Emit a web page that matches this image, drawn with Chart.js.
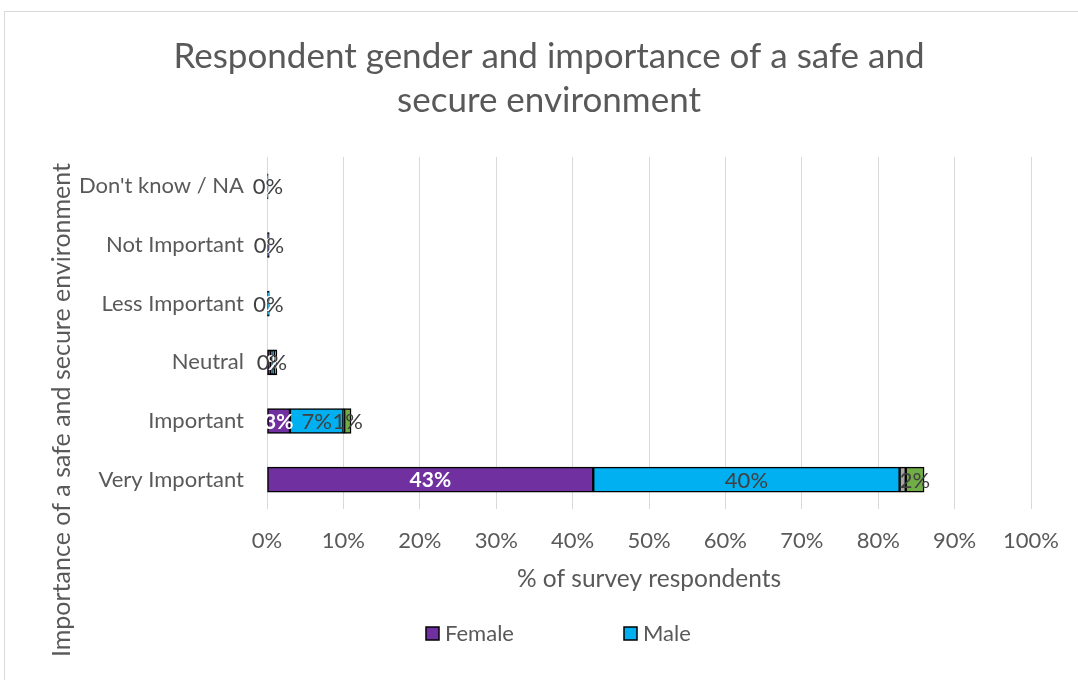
<!DOCTYPE html>
<html>
<head>
<meta charset="utf-8">
<script src="https://cdn.jsdelivr.net/npm/chart.js@4.4.1/dist/chart.umd.min.js"></script>
<style>
    body { margin: 0; background: #fff; }
    #frame { position: absolute; left: 4px; top: 11px; width: 1074px; height: 669px; border-top: 1px solid #d9d9d9; border-left: 1px solid #d9d9d9; }
    #wrap { position: absolute; left: 0; top: 0; width: 1078px; height: 680px; }
</style>
</head>
<body>
<div id="frame"></div>
<div id="wrap"><canvas id="canvasChart"></canvas></div>
<script>
var categories = ["Don't know / NA", "Not Important", "Less Important", "Neutral", "Important", "Very Important"];
var female = [0, 0.2, 0.1, 0.5, 3.0, 42.7];
var male = [0.15, 0.1, 0.2, 0.3, 7.0, 40.1];
var other = [0, 0, 0, 0.1, 0.1, 0.8];
var preferNot = [0, 0, 0, 0.4, 0.9, 2.4];
var xTicks = [0, 10, 20, 30, 40, 50, 60, 70, 80, 90, 100];

var textColor = '#595959';
var fontName = 'Lato, "Open Sans", sans-serif';

// data labels drawn in the middle of each segment
var segmentLabels = {
    id: 'segmentLabels',
    afterDatasetsDraw: function (chart) {
        var ctx = chart.ctx;
        ctx.save();
        ctx.textAlign = 'center';
        ctx.textBaseline = 'middle';
        chart.data.datasets.forEach(function (ds, i) {
            if (!ds.labelColor) return;
            var meta = chart.getDatasetMeta(i);
            meta.data.forEach(function (bar, j) {
                var v = ds.data[j];
                if (!ds.labelZero && Math.round(v) < 1) return;
                ctx.fillStyle = ds.labelColor;
                ctx.font = (ds.labelBold ? 'bold 21px ' : '22px ') + fontName;
                ctx.fillText(Math.round(v) + '%', (bar.x + bar.base) / 2, bar.y + 1);
            });
        });
        ctx.restore();
    }
};

// rotated y title and the two-item legend
var extras = {
    id: 'extras',
    afterDraw: function (chart) {
        var ctx = chart.ctx;
        ctx.save();
        ctx.fillStyle = textColor;
        ctx.font = '25px ' + fontName;
        ctx.textAlign = 'center';
        ctx.textBaseline = 'middle';
        ctx.translate(62, 410);
        ctx.rotate(-Math.PI / 2);
        ctx.fillText('Importance of a safe and secure environment', 0, 0);
        ctx.restore();

        ctx.save();
        ctx.font = '22px ' + fontName;
        ctx.textBaseline = 'middle';
        var x = 426;
        chart.data.datasets.forEach(function (ds) {
            if (!ds.inLegend) return;
            ctx.fillStyle = ds.backgroundColor;
            ctx.fillRect(x, 627, 13, 13);
            ctx.strokeStyle = '#000';
            ctx.lineWidth = 1.5;
            ctx.strokeRect(x, 627, 13, 13);
            ctx.fillStyle = textColor;
            ctx.textAlign = 'left';
            ctx.fillText(ds.label, x + 19, 634);
            x += 198;
        });
        ctx.restore();
    }
};

function makeSet(label, values, color, extra) {
    var ds = {
        label: label,
        data: values,
        backgroundColor: color,
        borderColor: '#000000',
        borderWidth: 1.5,
        borderSkipped: false,
        barThickness: 25
    };
    return Object.assign(ds, extra);
}

var config = {
    type: 'bar',
    data: {
        labels: categories,
        datasets: [
            makeSet('Female', female, '#7030A0', { inLegend: true, labelColor: '#ffffff', labelBold: true, labelZero: true }),
            makeSet('Male', male, '#00B0F0', { inLegend: true, labelColor: '#404040', labelZero: true }),
            makeSet('Other', other, '#A5A5A5', {}),
            makeSet('Prefer not to say', preferNot, '#70AD47', { labelColor: '#404040' })
        ]
    },
    options: {
        indexAxis: 'y',
        animation: false,
        responsive: true,
        maintainAspectRatio: false,
        layout: { padding: { left: 66, right: 46, top: 0, bottom: 86 } },
        scales: {
            x: {
                stacked: true,
                min: 0,
                max: 100,
                afterBuildTicks: function (scale) {
                    scale.ticks = xTicks.map(function (v) { return { value: v }; });
                },
                afterFit: function (scale) { scale.height = 85; },
                grid: { color: '#d9d9d9', lineWidth: 1, drawTicks: false },
                border: { display: false },
                ticks: {
                    padding: 19,
                    color: textColor,
                    font: { family: fontName, size: 22 },
                    callback: function (v) { return v + '%'; }
                },
                title: {
                    display: true,
                    text: '% of survey respondents',
                    color: textColor,
                    font: { family: fontName, size: 24.5 },
                    padding: { top: 0, bottom: 0 }
                }
            },
            y: {
                stacked: true,
                afterFit: function (scale) { scale.width = 201; },
                grid: { display: false, drawTicks: false },
                border: { display: false },
                ticks: {
                    padding: 23,
                    color: textColor,
                    font: { family: fontName, size: 22 }
                }
            }
        },
        plugins: {
            legend: { display: false },
            tooltip: { enabled: false },
            title: {
                display: true,
                text: ['Respondent gender and importance of a safe and', 'secure environment'],
                color: textColor,
                font: { family: fontName, size: 35, weight: 'normal', lineHeight: 1.257 },
                padding: { top: 35, bottom: 34 }
            }
        }
    },
    plugins: [segmentLabels, extras]
};

var ctx = document.getElementById('canvasChart').getContext('2d');
var myChart = new Chart(ctx, config);
</script>
</body>
</html>
